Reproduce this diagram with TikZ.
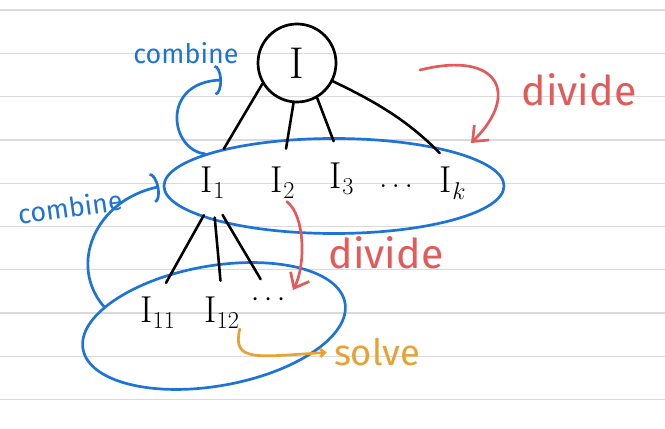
\documentclass[tikz,border=0pt]{standalone}
\usepackage{fontspec}
\setsansfont{Fira Sans}
\usetikzlibrary{arrows.meta,shapes.geometric}
\definecolor{penblue}{RGB}{30,116,214}
\definecolor{penred}{RGB}{228,90,90}
\definecolor{penorange}{RGB}{232,162,52}
\definecolor{ruleline}{RGB}{218,218,218}
\tikzset{
  paperline/.style ={draw=ruleline, line width=1.1pt},
  rootnode/.style  ={draw, circle, line width=2.3pt, minimum size=2.34cm, inner sep=0pt, font=\fontsize{38}{42}\selectfont},
  grp/.style       ={draw=penblue, ellipse, line width=2.3pt, inner sep=0pt},
  ilbl/.style      ={inner sep=0pt, font=\fontsize{32}{36}\selectfont},
  word/.style      ={inner sep=0pt, font=\sffamily\fontsize{35}{38}\selectfont},
  branch/.style    ={line width=2.2pt, line cap=round},
  combarr/.style   ={draw=penblue, line width=2.3pt, line cap=round, -{Arc Barb[length=6pt, width=26pt]}},
  divarr/.style    ={draw=penred, line width=2.3pt, line cap=round, line join=round, -{Straight Barb[length=11pt, width=18pt]}},
  solvearr/.style  ={draw=penorange, line width=2.3pt, line cap=round, -{Straight Barb[length=4pt, width=7pt]}},
}
\begin{document}
\begin{tikzpicture}[x=0.03cm, y=-0.03cm]
  \fill[white] (0,0) rectangle (665,429);
  \useasboundingbox (0,0) rectangle (665,429);
  \foreach \k in {0,...,9}
    \draw[paperline] (0,10+43.3*\k) -- (665,10+43.3*\k);

  \node[rootnode] (top) at (297,63) {I};

  \node[grp, minimum width=10.2cm, minimum height=2.85cm] (grp1) at (334,186) {};
  \node[ilbl] (i1) at (213,183) {$\mathrm{I}_1$};
  \node[ilbl] (i2) at (283,183) {$\mathrm{I}_2$};
  \node[ilbl] (i3) at (342,179) {$\mathrm{I}_3$};
  \node[ilbl] (dots1) at (396,186) {$\dots$};
  \node[ilbl] (ik) at (453,183) {$\mathrm{I}_k$};

  \node[grp, minimum width=7.98cm, minimum height=3.6cm, rotate=10] (grp2) at (214,326) {};
  \node[ilbl] (i11) at (158,313) {$\mathrm{I}_{11}$};
  \node[ilbl] (i12) at (222,313) {$\mathrm{I}_{12}$};
  \node[ilbl, font=\fontsize{24}{28}\selectfont] (dots2) at (269,300) {$\cdots$};

  \node[word, text=penblue, font=\sffamily\fontsize{23}{26}\selectfont] (comb1) at (186,53) {combine};
  \node[word, text=penblue, font=\sffamily\fontsize{23}{26}\selectfont, rotate=8] (comb2) at (70,207) {combine};
  \node[word, text=penred] (div1) at (579,90) {divide};
  \node[word, text=penred] (div2) at (386,253) {divide};
  \node[word, text=penorange, font=\sffamily\fontsize{31}{34}\selectfont] (solve) at (377,352) {solve};

  \coordinate (ctip) at (222,80);
  \coordinate (dva) at (420,70);
  \coordinate (dvb) at (471,143);
  \coordinate (dvc) at (293,290);

  \draw[branch, shorten >=18pt] (top.211) -- (i1.north);
  \draw[branch, shorten >=16pt] (top.265) -- (i2.north);
  \draw[branch, shorten >=20pt] (top.300) -- (i3.north);
  \draw[branch, shorten >=16pt] (top.333) to[bend left=10] (ik.north);
  \draw[branch, shorten <=16pt, shorten >=14pt] (i1.south) -- (i11.north);
  \draw[branch, shorten <=16pt, shorten >=14pt] (i1.south) -- (i12.north);
  \draw[branch, shorten <=16pt, shorten >=14pt] (i1.south) -- (dots2.north);

  \draw[combarr] (grp1.166) .. controls (170,150) and (160,82) .. (ctip);
  \draw[combarr, shorten >=3pt] (grp2.160) .. controls (68,265) and (95,200) .. (grp1.west);
  \draw[divarr] (dva) .. controls (500,50) and (520,95) .. (dvb);
  \draw[divarr, shorten <=4pt] (i2.south) .. controls (305,215) and (306,265) .. (dvc);
  \draw[solvearr, shorten >=6pt] (i12.south east) .. controls (232,362) and (255,357) .. (solve.west);
\end{tikzpicture}
\end{document}
